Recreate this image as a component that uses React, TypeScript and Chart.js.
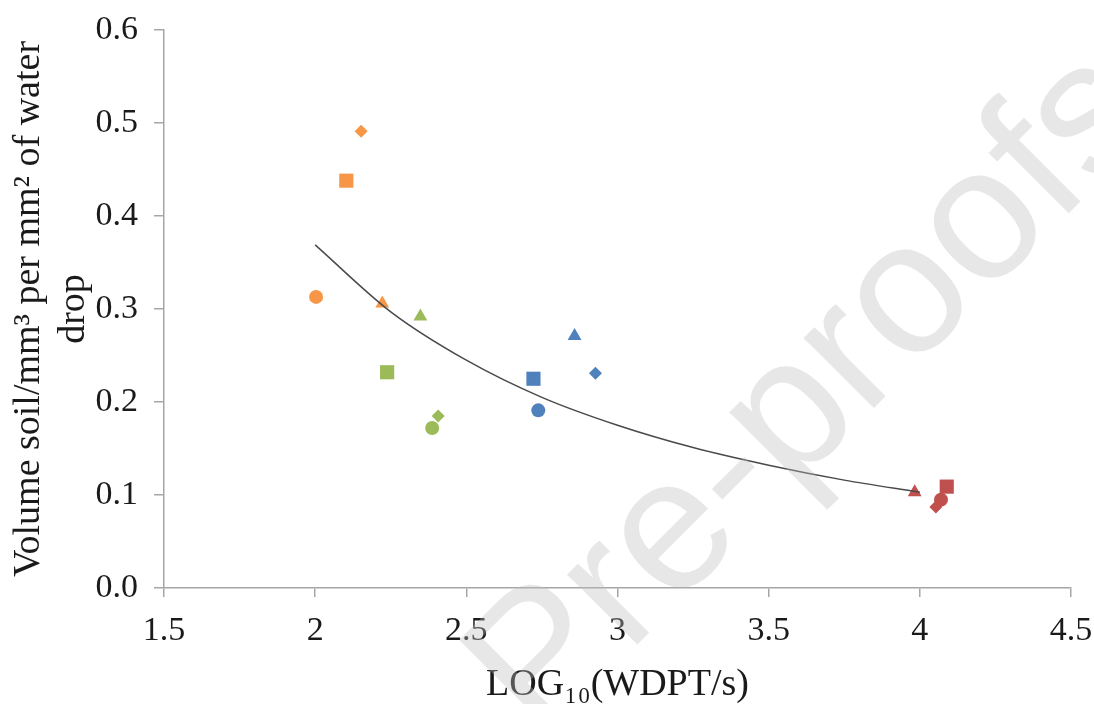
import React, { useEffect, useRef } from "react";
import { Chart, registerables } from "chart.js";

Chart.register(...registerables);

// Marker shapes used by each group (same order in every group)
const shapes = ["circle", "rect", "triangle", "rectRot"];

// Orange group
const orangeX = [2.003, 2.103, 2.222, 2.152];
const orangeY = [0.313, 0.438, 0.306, 0.491];
// Green group
const greenX = [2.387, 2.238, 2.348, 2.407];
const greenY = [0.172, 0.232, 0.292, 0.185];
// Blue group
const blueX = [2.738, 2.722, 2.858, 2.927];
const blueY = [0.191, 0.225, 0.271, 0.231];
// Red group
const redX = [4.07, 4.089, 3.983, 4.053];
const redY = [0.095, 0.109, 0.103, 0.087];

// Trend line
const trendX = [2.0, 2.25, 2.5, 2.75, 3.0, 3.25, 3.5, 3.75, 4.0];
const trendY = [0.369, 0.297, 0.245, 0.205, 0.175, 0.151, 0.132, 0.116, 0.103];

const xTicks = [1.5, 2, 2.5, 3, 3.5, 4, 4.5];
const yTicks = [0, 0.1, 0.2, 0.3, 0.4, 0.5, 0.6];

const xTitle = "LOG\u2081\u2080(WDPT/s)";
const yTitle = ["Volume soil/mm\u00B3 per mm\u00B2 of water", "drop"];
const watermark = "Pre-proofs";

const toPts = (xs: number[], ys: number[]) => xs.map((x, i) => ({ x, y: ys[i] }));

const SERIF = "'Liberation Serif', 'Times New Roman', serif";

export default function App() {
  const ref = useRef<HTMLCanvasElement | null>(null);

  useEffect(() => {
    document.body.style.margin = "0";
    const canvas = ref.current;
    if (!canvas) return;

    const group = (xs: number[], ys: number[], color: string, radii: number[]) => ({
      type: "scatter" as const,
      data: toPts(xs, ys),
      backgroundColor: color,
      borderColor: color,
      borderWidth: 0,
      pointStyle: shapes,
      pointRadius: radii,
      showLine: false,
    });

    const watermarkPlugin = {
      id: "watermark",
      afterDraw(chart: any) {
        const ctx = chart.ctx;
        ctx.save();
        ctx.translate(850, 432);
        ctx.rotate((-45 * Math.PI) / 180);
        ctx.font = "188px 'Liberation Sans', Arial, sans-serif";
        ctx.fillStyle = "rgba(190,190,190,0.37)";
        ctx.textAlign = "center";
        ctx.textBaseline = "alphabetic";
        ctx.fillText(watermark, 0, 0);
        ctx.restore();
      },
    };

    const radii = [7, 10, 8, 6.5];

    const chart = new Chart(canvas, {
      type: "scatter",
      data: {
        datasets: [
          {
            type: "line",
            data: toPts(trendX, trendY),
            borderColor: "#4a4a4a",
            borderWidth: 1.5,
            pointRadius: 0,
            fill: false,
            cubicInterpolationMode: "monotone",
          } as any,
          group(orangeX, orangeY, "#F79646", radii),
          group(greenX, greenY, "#9BBB59", radii),
          group(blueX, blueY, "#4F81BD", radii),
          group(redX, redY, "#C0504D", radii),
        ],
      },
      options: {
        responsive: false,
        animation: false,
        layout: { padding: { top: 30, right: 23, left: 0, bottom: 0 } },
        plugins: { legend: { display: false }, tooltip: { enabled: false } },
        scales: {
          x: {
            type: "linear",
            min: 1.5,
            max: 4.5,
            afterBuildTicks: (s: any) => {
              s.ticks = xTicks.map((v) => ({ value: v }));
            },
            afterFit: (s: any) => {
              s.height = 116;
              s.paddingLeft = 0;
              s.paddingRight = 0;
            },
            ticks: {
              callback: (v: any) => String(v),
              color: "#1a1a1a",
              font: { family: SERIF, size: 34 },
              padding: 14,
              maxRotation: 0,
            },
            grid: {
              display: true,
              drawOnChartArea: false,
              drawTicks: true,
              tickLength: 9,
              color: "#a6a6a6",
              lineWidth: 1.5,
            },
            border: { display: true, color: "#a6a6a6", width: 1.5 },
            title: {
              display: true,
              text: xTitle,
              color: "#1a1a1a",
              font: { family: SERIF, size: 38, lineHeight: 1.0 },
              padding: { top: 0, bottom: 0 },
            },
          },
          y: {
            type: "linear",
            min: 0,
            max: 0.6,
            afterBuildTicks: (s: any) => {
              s.ticks = yTicks.map((v) => ({ value: v }));
            },
            afterFit: (s: any) => {
              s.width = 164;
              s.paddingTop = 0;
              s.paddingBottom = 0;
            },
            ticks: {
              callback: (v: any) => Number(v).toFixed(1),
              color: "#1a1a1a",
              font: { family: SERIF, size: 34 },
              padding: 16,
            },
            grid: {
              display: true,
              drawOnChartArea: false,
              drawTicks: true,
              tickLength: 10,
              color: "#a6a6a6",
              lineWidth: 1.5,
            },
            border: { display: true, color: "#a6a6a6", width: 1.5 },
            title: {
              display: true,
              text: yTitle,
              color: "#1a1a1a",
              font: { family: SERIF, size: 38, lineHeight: 1.18 },
              padding: { top: 7, bottom: 0 },
            },
          },
        },
      },
      plugins: [watermarkPlugin],
    } as any);

    return () => chart.destroy();
  }, []);

  return (
    <div style={{ width: 1094, height: 704 }}>
      <canvas ref={ref} width={1094} height={704} style={{ display: "block" }} />
    </div>
  );
}
